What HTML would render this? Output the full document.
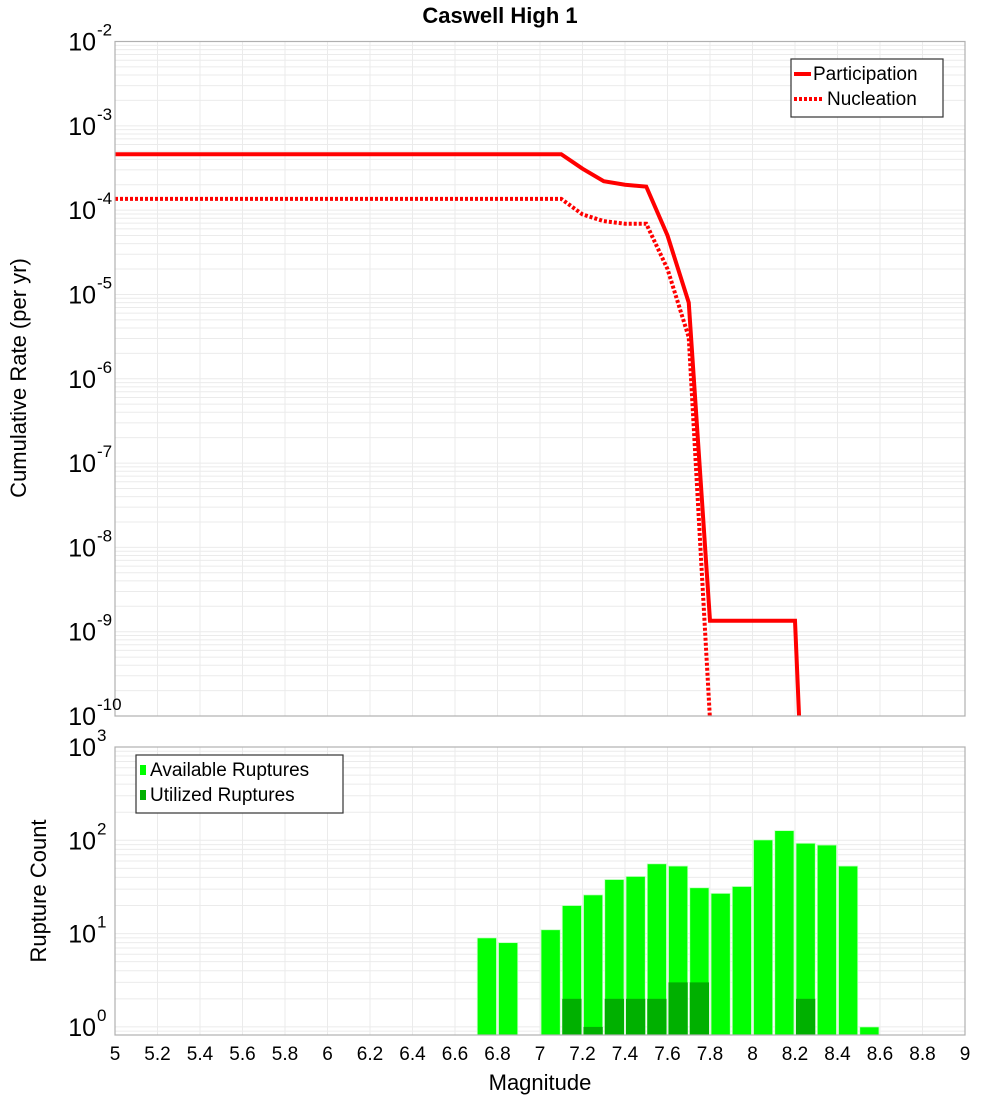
<!DOCTYPE html>
<html><head><meta charset="utf-8"><style>
body{margin:0;background:#fff;}
svg{display:block;font-family:"Liberation Sans","DejaVu Sans",sans-serif;}
</style></head><body>
<svg id="c" width="1000" height="1100" viewBox="0 0 1000 1100">
<text x="500" y="23" text-anchor="middle" font-size="22" font-weight="bold">Caswell High 1</text>
<text transform="translate(26,378) rotate(-90)" text-anchor="middle" font-size="22">Cumulative Rate (per yr)</text>
<text transform="translate(46,891) rotate(-90)" text-anchor="middle" font-size="22">Rupture Count</text>
<text x="540" y="1090" text-anchor="middle" font-size="22">Magnitude</text>
<g id="topg"></g><g id="botg"></g>
</svg>
<script>
const partMags=[5,7.1,7.2,7.3,7.4,7.5,7.6,7.7,7.8,8.2,8.3];
const partRates=[4.6e-4,4.6e-4,3.1e-4,2.2e-4,2.0e-4,1.9e-4,5.0e-5,8e-6,1.35e-9,1.35e-9,1.6e-15];
const nuclMags=[5,7.1,7.2,7.3,7.4,7.5,7.6,7.7,7.8];
const nuclRates=[1.36e-4,1.36e-4,8.9e-5,7.4e-5,6.9e-5,6.9e-5,2.0e-5,3.1e-6,9e-11];
const binStarts=[6.7,6.8,7.0,7.1,7.2,7.3,7.4,7.5,7.6,7.7,7.8,7.9,8.0,8.1,8.2,8.3,8.4,8.5];
const availCounts=[9,8,11,20,26,38,41,56,53,31,27,32,101,127,93,89,53,1];
const utilCounts=[0,0,0,2,1,2,2,2,3,3,0,0,0,0,2,0,0,0];
const xTicks=[5,5.2,5.4,5.6,5.8,6,6.2,6.4,6.6,6.8,7,7.2,7.4,7.6,7.8,8,8.2,8.4,8.6,8.8,9];
const topExps=[-2,-3,-4,-5,-6,-7,-8,-9,-10];
const botExps=[3,2,1,0];

const NS="http://www.w3.org/2000/svg";
const X0=115,X1=965;
const xs=m=>X0+(m-5)/4*(X1-X0);
const T0=41.5,T1=716,TD=(T1-T0)/8;
const yt=v=>T0+(-2-Math.log10(v))*TD;
const B0=747,B1=1035,BD=93.3;
const yb=v=>B0+(3-Math.log10(v))*BD;
function el(p,tag,a){const e=document.createElementNS(NS,tag);for(const k in a)e.setAttribute(k,a[k]);p.appendChild(e);return e;}
const gTop=document.getElementById('topg'),gBot=document.getElementById('botg');

function grid(g,y0,y1,yf,expsLo,expsHi,name){
  const gr=el(g,'g',{});
  
  
  for(let e=expsLo;e<expsHi;e++)for(let k=1;k<10;k++){const y=yf(k*Math.pow(10,e));if(y<y0-0.1||y>y1+0.1)continue;
    el(gr,'line',{x1:X0,x2:X1,y1:y,y2:y,stroke:'#ebebeb','stroke-width':1});}
  xTicks.forEach(t=>{const x=xs(t);el(gr,'line',{x1:x,x2:x,y1:y0,y2:y1,stroke:'#ebebeb','stroke-width':1});});
}
grid(gTop,T0,T1,yt,-10,-2,'top');
grid(gBot,B0,B1,yb,-1,3,'bottom');

const defs=el(gTop,'defs',{});
const clip=el(defs,'clipPath',{id:'clipT'});el(clip,'rect',{x:X0,y:T0,width:X1-X0,height:T1-T0});
function line(mags,vals,dash,name){
  const cp=el(gTop,'polyline',{points:mags.map((m,i)=>xs(m)+','+yt(vals[i])).join(' '),fill:'none',stroke:'#ff0000','stroke-width':4,'stroke-dasharray':dash,'clip-path':'url(#clipT)'});
  
  
}
line(partMags,partRates,'none','participation-line');
line(nuclMags,nuclRates,'3,2','nucleation-line');

const bw=xs(5.1)-xs(5);
binStarts.forEach((b,i)=>{
  const r=el(gBot,'rect',{x:xs(b)+1,y:yb(availCounts[i]),width:bw-2,height:B1-yb(availCounts[i]),fill:'#00ff00',stroke:'#c8ffc8','stroke-width':0.8});
  
  
  if(utilCounts[i]>0){
    const u=el(gBot,'rect',{x:xs(b)+1,y:yb(utilCounts[i]),width:bw-2,height:B1-yb(utilCounts[i]),fill:'#00b000'});
    
    
  }
});

el(gTop,'rect',{x:X0,y:T0,width:X1-X0,height:T1-T0,fill:'none',stroke:'#b0b0b0','stroke-width':1.2});
el(gBot,'rect',{x:X0,y:B0,width:X1-X0,height:B1-B0,fill:'none',stroke:'#b0b0b0','stroke-width':1.2});

function ylab(g,y,e,name){
  const t=el(g,'text',{x:96,y:y+9,'text-anchor':'end','font-size':25});
  
  
  t.textContent='10';
  const s=el(g,'text',{x:97,y:y-6,'font-size':17});
  
  
  s.textContent=String(e);
}
topExps.forEach(e=>ylab(gTop,yt(Math.pow(10,e)),e,'y-tick-top'));
botExps.forEach(e=>ylab(gBot,yb(Math.pow(10,e)),e,'y-tick-bottom'));
xTicks.forEach(t=>{
  const tx=el(gBot,'text',{x:xs(t),y:1060,'text-anchor':'middle','font-size':19});
  
  
  tx.textContent=String(t);
});

function legend(g,x,y,w,items,name){
  const lg=el(g,'g',{});
  
  
  el(lg,'rect',{x:x,y:y,width:w,height:58,fill:'#fff',stroke:'#333','stroke-width':1.2});
  items.forEach((it,i)=>{
    const cy=y+15+i*25;
    it.draw(lg,cy);
    const t=el(lg,'text',{x:it.tx,y:cy+6,'font-size':19});
    
    
    t.textContent=it.label;
  });
}
legend(gTop,791,59,152,[
  {label:'Participation',tx:813,draw:(g,cy)=>el(g,'line',{x1:794,x2:811,y1:cy,y2:cy,stroke:'#f00','stroke-width':4})},
  {label:'Nucleation',tx:827,draw:(g,cy)=>el(g,'line',{x1:794,x2:822,y1:cy,y2:cy,stroke:'#f00','stroke-width':4,'stroke-dasharray':'3,2'})}
],'legend-top');
legend(gBot,136,755,207,[
  {label:'Available Ruptures',tx:150,draw:(g,cy)=>el(g,'rect',{x:140,y:cy-5,width:6,height:10,fill:'#00ff00'})},
  {label:'Utilized Ruptures',tx:150,draw:(g,cy)=>el(g,'rect',{x:140,y:cy-5,width:6,height:10,fill:'#00b000'})}
],'legend-bottom');
</script>
</body></html>
